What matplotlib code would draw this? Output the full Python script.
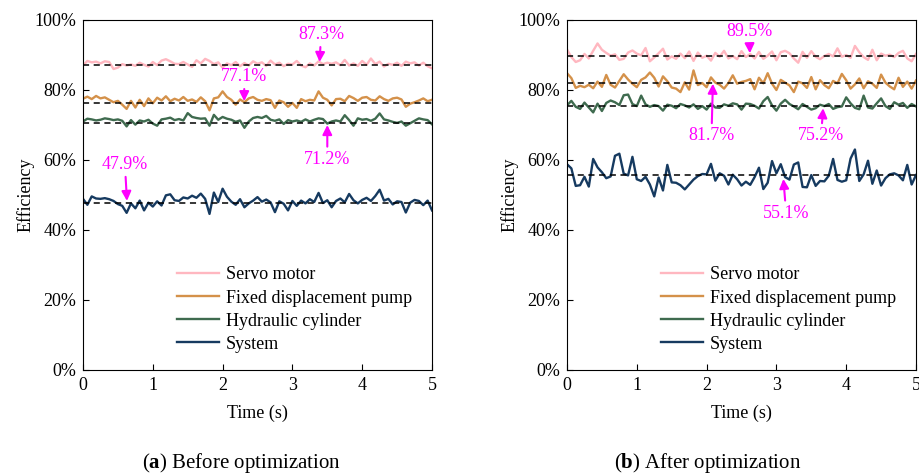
import matplotlib
matplotlib.use('Agg')
import matplotlib.pyplot as plt
import numpy as np
from matplotlib.ticker import FuncFormatter

plt.rcParams['font.family'] = ['Liberation Serif', 'DejaVu Serif']
plt.rcParams['mathtext.fontset'] = 'custom'
plt.rcParams['mathtext.rm'] = 'Liberation Serif'
plt.rcParams['mathtext.bf'] = 'Liberation Serif:bold'

# series labels and colours
names = ['Servo motor', 'Fixed displacement pump', 'Hydraulic cylinder', 'System']
colors = ['#ffb7c0', '#d4914a', '#3f6b4f', '#163a60']

# (a) before optimization, efficiency in %
servo_a = [87.0, 88.3, 87.9, 88.1, 87.6, 88.2, 88.0, 86.0, 86.4, 87.4, 87.0, 87.3, 86.9, 87.8, 87.2, 86.7,
           88.0, 87.1, 88.4, 88.8, 88.2, 87.5, 87.4, 88.0, 87.3, 86.6, 88.5, 87.6, 88.9, 88.3, 87.4, 87.9,
           86.4, 87.6, 87.1, 88.0, 86.8, 87.7, 87.0, 88.2, 87.5, 87.9, 86.9, 88.4, 87.3, 87.8, 86.8, 87.5,
           87.3, 88.3, 87.0, 86.5, 87.6, 87.0, 88.2, 87.4, 87.8, 87.5, 87.9, 87.1, 88.6, 87.0, 87.6, 86.9,
           88.3, 87.2, 89.0, 87.4, 88.1, 86.7, 87.5, 87.2, 87.8, 86.9, 88.1, 87.6, 87.9, 87.0, 87.8, 86.8, 86.2]
pump_a = [77.5, 78.1, 77.4, 78.3, 77.6, 77.9, 77.2, 76.5, 76.9, 75.8, 74.6, 76.9, 75.0, 77.2, 75.4, 77.6,
          76.2, 77.8, 77.0, 78.2, 76.8, 77.5, 77.0, 78.0, 76.9, 77.3, 76.6, 77.9, 76.8, 74.2, 77.6, 77.9,
          79.6, 78.0, 77.2, 75.8, 77.3, 76.5, 77.6, 78.0, 77.2, 76.9, 77.4, 77.1, 74.9, 77.0, 76.5, 75.2,
          76.3, 74.9, 77.4, 76.8, 77.2, 77.0, 79.6, 77.8, 77.2, 75.6, 77.4, 77.5, 76.8, 78.3, 77.7, 76.9,
          77.8, 78.0, 77.2, 77.0, 78.2, 77.4, 76.9, 77.6, 77.8, 77.3, 75.2, 76.1, 76.5, 77.0, 77.6, 76.8, 77.2]
hyd_a = [71.0, 71.8, 71.6, 71.3, 71.5, 71.9, 71.7, 71.4, 71.6, 71.2, 69.6, 71.4, 70.1, 71.3, 71.0, 71.5,
         70.4, 69.8, 71.6, 71.8, 72.1, 71.4, 71.7, 71.3, 73.4, 72.3, 72.0, 71.8, 71.9, 69.8, 72.9, 71.5,
         72.3, 71.8, 71.5, 70.9, 71.3, 69.2, 71.0, 72.0, 72.3, 72.0, 72.6, 71.5, 71.2, 71.6, 70.3, 71.4,
         71.0, 71.3, 70.9, 71.6, 71.0, 71.5, 71.9, 71.7, 70.4, 71.0, 71.3, 71.0, 72.8, 71.4, 69.8, 71.9,
         71.5, 71.7, 71.2, 71.8, 73.3, 71.6, 71.3, 70.9, 70.6, 71.0, 69.8, 70.5, 71.2, 71.9, 71.6, 71.4, 70.2]
sys_a = [48.9, 47.2, 49.6, 49.0, 48.9, 49.1, 48.8, 48.3, 47.4, 46.9, 44.9, 47.6, 46.2, 48.4, 45.6, 47.8,
         46.7, 48.2, 47.0, 49.9, 50.2, 48.5, 48.3, 49.3, 49.0, 49.8, 49.2, 50.4, 48.9, 44.6, 50.7, 48.0,
         51.8, 49.5, 48.1, 47.2, 48.8, 46.5, 47.6, 48.4, 49.4, 48.1, 48.7, 47.9, 45.1, 48.2, 47.5, 45.6,
         48.3, 46.9, 48.4, 47.6, 48.8, 48.0, 50.6, 47.7, 48.5, 46.5, 48.3, 49.0, 47.9, 50.3, 48.5, 47.6,
         48.6, 49.2, 48.3, 49.7, 51.5, 48.4, 48.9, 47.3, 48.2, 48.0, 45.0, 47.8, 48.6, 48.3, 47.1, 48.4, 45.6]
mean_a = [87.1, 76.2, 70.6, 47.7]

# (b) after optimization
servo_b = [91.6, 89.4, 88.0, 88.5, 90.3, 89.0, 91.2, 93.3, 91.5, 90.6, 89.8, 90.2, 88.6, 88.9, 90.7, 91.3,
           90.4, 89.9, 92.0, 88.2, 89.3, 90.5, 91.8, 88.7, 89.6, 88.9, 90.4, 89.1, 91.0, 88.3, 90.7, 89.2,
           89.8, 88.4, 90.6, 89.5, 91.2, 89.0, 89.7, 88.8, 91.1, 89.4, 90.3, 89.0, 90.9, 88.9, 89.8, 91.0,
           88.5, 90.8, 91.2, 90.5, 89.0, 87.8, 90.9, 89.2, 91.1, 89.5, 88.8, 89.7, 90.3, 89.6, 91.9, 89.5,
           90.0, 89.2, 92.6, 90.8, 89.4, 88.6, 91.5, 88.5, 90.4, 89.8, 90.1, 89.4, 90.6, 91.2, 89.0, 88.2, 90.3]
pump_b = [84.8, 83.4, 80.6, 81.2, 80.8, 81.5, 80.5, 82.4, 80.9, 84.3, 81.5, 80.7, 82.6, 84.5, 83.0, 81.8,
          80.8, 82.9, 83.6, 85.0, 83.5, 81.0, 83.9, 82.5, 80.7, 80.4, 79.4, 82.2, 80.1, 85.6, 81.4, 82.0,
          80.8, 83.6, 82.1, 81.5, 80.4, 82.0, 84.2, 81.8, 82.3, 82.6, 83.1, 80.2, 83.5, 81.9, 84.8, 81.8,
          80.0, 82.9, 82.1, 81.3, 79.4, 82.4, 81.9, 80.6, 83.7, 80.2, 82.8, 81.4, 80.5, 82.6, 81.9, 84.6,
          82.8, 80.4, 81.6, 83.3, 80.5, 82.5, 81.8, 80.6, 84.4, 82.1, 81.0, 80.2, 83.5, 80.9, 82.4, 80.4, 82.7]
hyd_b = [75.6, 76.9, 75.2, 74.6, 76.4, 75.0, 73.6, 76.1, 74.0, 76.3, 77.0, 76.5, 75.7, 78.5, 78.7, 76.0,
         75.4, 78.4, 75.9, 75.2, 75.7, 75.4, 74.1, 75.8, 75.5, 74.8, 76.0, 75.6, 75.0, 75.9, 74.6, 75.4,
         74.4, 76.1, 75.0, 74.9, 75.9, 75.5, 76.2, 75.9, 74.4, 76.1, 76.0, 75.5, 74.7, 76.8, 78.0, 75.6,
         74.1, 76.1, 77.2, 76.0, 75.3, 74.5, 76.0, 75.2, 74.4, 74.8, 75.8, 75.4, 76.0, 74.6, 75.1, 75.3,
         77.9, 76.2, 74.9, 74.5, 78.4, 75.0, 74.7, 76.2, 77.6, 75.4, 74.6, 76.5, 75.8, 76.3, 74.9, 76.0, 75.3]
sys_b = [58.8, 57.6, 52.6, 52.8, 55.2, 52.4, 60.3, 57.9, 56.5, 54.8, 55.3, 61.2, 61.8, 56.1, 55.6, 60.9,
         54.5, 54.0, 55.2, 53.0, 49.6, 55.0, 51.3, 58.6, 53.6, 53.5, 52.8, 51.6, 53.0, 54.4, 55.4, 56.0,
         55.9, 58.9, 54.1, 56.2, 55.5, 53.0, 55.8, 54.5, 52.7, 53.8, 52.9, 55.1, 57.8, 51.7, 53.5, 59.7,
         56.2, 58.8, 55.1, 54.4, 58.7, 59.3, 52.3, 52.2, 55.7, 52.6, 54.0, 53.9, 55.5, 60.3, 54.3, 53.8,
         54.2, 60.4, 63.0, 54.0, 55.9, 59.8, 53.2, 57.0, 52.7, 54.8, 55.9, 56.2, 55.6, 54.2, 58.6, 53.0, 55.7]
mean_b = [89.6, 82.0, 75.3, 55.8]

# annotations: label, arrow tip (t, %), text centre (t, %)
notes_a = [('87.3%', (3.39, 88.0), (3.41, 95.9)),
           ('77.1%', (2.31, 76.8), (2.31, 83.9)),
           ('71.2%', (3.50, 70.0), (3.50, 60.2)),
           ('47.9%', (0.63, 48.3), (0.60, 58.8))]
notes_b = [('89.5%', (2.62, 90.5), (2.61, 96.6)),
           ('81.7%', (2.09, 81.8), (2.07, 66.9)),
           ('75.2%', (3.67, 74.8), (3.64, 66.9)),
           ('55.1%', (3.10, 54.6), (3.14, 44.8))]

fig = plt.figure(figsize=(9.19, 4.74), dpi=100)
ax_a = fig.add_axes([83 / 919, 104 / 474, 349 / 919, 350 / 474])
ax_b = fig.add_axes([567 / 919, 104 / 474, 349 / 919, 350 / 474])


def draw(ax, series, means, notes):
    for y, name, c in zip(series, names, colors):
        t = np.linspace(0, 5, len(y))
        ax.plot(t, y, color=c, lw=1.7, label=name)
    for m in means:
        ax.axhline(m, color='black', lw=1.1, ls=(0, (4, 3)))
    for txt, tip, pos in notes:
        ax.annotate(txt, xy=tip, xytext=pos, ha='center', va='center',
                    color='#ff00ff', fontsize=13,
                    arrowprops=dict(arrowstyle='-|>', color='#ff00ff', lw=1.5,
                                    mutation_scale=14, shrinkA=1, shrinkB=0))
    ax.set_xlim(0, 5)
    ax.set_ylim(0, 100)
    ax.set_yticks(range(0, 101, 20))
    ax.yaxis.set_major_formatter(FuncFormatter(lambda v, p: '%d%%' % v))
    ax.tick_params(direction='in', labelsize=13, length=4)
    ax.tick_params(axis='y', pad=5)
    ax.tick_params(axis='x', pad=5)
    ax.set_xlabel('Time (s)', fontsize=13, labelpad=8)
    ax.set_ylabel('Efficiency', fontsize=13, labelpad=0)
    ax.legend(loc='upper left', bbox_to_anchor=(0.27, 0.296), frameon=False,
              fontsize=13, handlelength=2.3, handletextpad=0.4, labelspacing=0.34,
              borderpad=0, borderaxespad=0)


draw(ax_a, [servo_a, pump_a, hyd_a, sys_a], mean_a, notes_a)
draw(ax_b, [servo_b, pump_b, hyd_b, sys_b], mean_b, notes_b)

fig.text(241 / 919, 11 / 474, r'($\mathbf{a}$) Before optimization', ha='center', va='center', fontsize=15)
fig.text(708 / 919, 11 / 474, r'($\mathbf{b}$) After optimization', ha='center', va='center', fontsize=15)

plt.savefig('out.png', dpi=100)
